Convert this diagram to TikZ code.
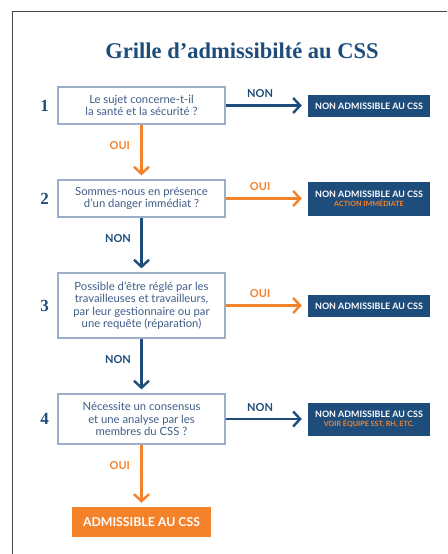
\documentclass[tikz,border=0pt]{standalone}
\usepackage{fontspec}
\setmainfont{Lato}
\newfontfamily\titlefont{Liberation Serif}
\usepackage{xcolor}
\usetikzlibrary{positioning, calc, arrows.meta}

\definecolor{navy}{HTML}{1E4D7B}
\definecolor{orangecss}{HTML}{F4822A}
\definecolor{boxline}{HTML}{9DAECB}
\definecolor{boxtext}{HTML}{3F5D88}
\definecolor{frameline}{HTML}{444444}

\tikzset{
	question/.style={draw=boxline, line width=1.2pt, fill=white, text=boxtext, align=center,
		minimum width=167pt, inner sep=2pt, font=\fontsize{11.3}{12.5}\selectfont},
	verdict/.style={fill=navy, text=white, align=center, minimum width=122pt, inner sep=2pt,
		font=\bfseries\fontsize{8.9}{10}\selectfont},
	flowoui/.style={draw=orangecss, line width=2.4pt, -{Straight Barb[length=7pt, width=15pt, line width=2.4pt]}},
	flownon/.style={draw=navy, line width=2.4pt, -{Straight Barb[length=7pt, width=15pt, line width=2.4pt]}},
	ouitext/.style={text=orangecss, font=\bfseries\fontsize{11}{12}\selectfont},
	nontext/.style={text=navy, font=\bfseries\fontsize{11}{12}\selectfont},
	stepnum/.style={text=navy, font=\titlefont\bfseries\fontsize{17}{17}\selectfont},
}

\begin{document}
\begin{tikzpicture}[x=1pt, y=-1pt]
	\useasboundingbox (0,0) rectangle (447,554);
	\draw[frameline, line width=1pt] (12,554) -- (12,11) -- (447,11);

	\node[text=navy, font=\titlefont\bfseries\fontsize{22.5}{23}\selectfont] (title) at (242,51) {Grille d’admissibilté au CSS};

	% questions
	\node[question, minimum height=37pt] (q1) at (141.5,105.5) {Le sujet concerne-t-il\\la santé et la sécurité ?};
	\node[question, minimum height=37pt] (q2) at (141.5,198.5) {Sommes-nous en présence\\d’un danger immédiat ?};
	\node[question, minimum height=65pt] (q3) at (141.5,305.5) {Possible d’être réglé par les\\travailleuses et travailleurs,\\par leur gestionnaire ou par\\une requête (réparation)};
	\node[question, minimum height=50pt] (q4) at (141.5,419) {Nécessite un consensus\\et une analyse par les\\membres du CSS ?};

	\foreach \n in {1,2,3,4} {
		\node[stepnum, left=5pt of q\n] (n\n) {\n};
	}

	% verdicts
	\node[verdict, minimum height=22pt] (r1) at (369,106) {NON ADMISSIBLE AU CSS};
	\node[verdict, minimum height=34pt] (r2) at (369,199) {NON ADMISSIBLE AU CSS\\[-1pt]{\color{orangecss}\fontsize{7.2}{8}\selectfont ACTION IMMÉDIATE}};
	\node[verdict, minimum height=22pt] (r3) at (369,306) {NON ADMISSIBLE AU CSS};
	\node[verdict, minimum height=33pt] (r4) at (369,419.5) {NON ADMISSIBLE AU CSS\\[-1pt]{\color{orangecss}\fontsize{7.2}{8}\selectfont VOIR ÉQUIPE SST, RH, ETC.}};

	\node[fill=orangecss, text=white, minimum width=139pt, minimum height=30pt, font=\bfseries\fontsize{12.3}{13}\selectfont] (fin) at (141.5,522) {ADMISSIBLE AU CSS};

	% connectors
	\draw[flownon, shorten >=6pt] (q1.east) -- (q1.east -| r1.west) node[nontext, pos=0.42, above=3pt] {NON};
	\draw[flowoui, shorten >=6pt] (q2.east) -- (q2.east -| r2.west) node[ouitext, pos=0.42, above=3pt] {OUI};
	\draw[flowoui, shorten >=6pt] (q3.east) -- (q3.east -| r3.west) node[ouitext, pos=0.42, above=3pt] {OUI};
	\draw[flownon, shorten >=6pt] (q4.east) -- (q4.east -| r4.west) node[nontext, pos=0.42, above=3pt] {NON};

	\draw[flowoui, shorten >=4pt] (q1.south) -- (q2.north) node[ouitext, pos=0.38, left=7pt] {OUI};
	\draw[flownon, shorten >=4pt] (q2.south) -- (q3.north) node[nontext, pos=0.38, left=6pt] {NON};
	\draw[flownon, shorten >=4pt] (q3.south) -- (q4.north) node[nontext, pos=0.38, left=6pt] {NON};
	\draw[flowoui, shorten >=4pt] (q4.south) -- (fin.north -| q4.south) node[ouitext, pos=0.33, left=7pt] {OUI};
\end{tikzpicture}
\end{document}
